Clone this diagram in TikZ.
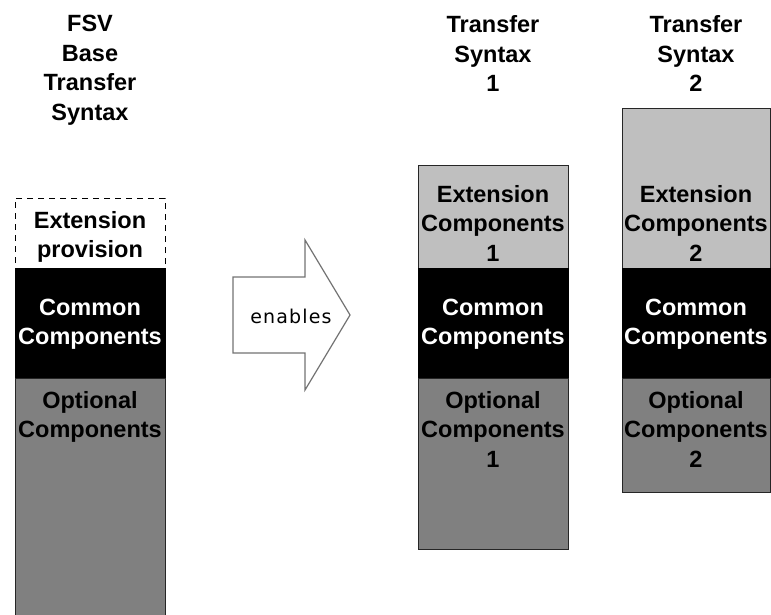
\documentclass[tikz,border=0pt]{standalone}
\usepackage{fontspec}
\setmainfont{Liberation Sans}[BoldFont={Liberation Sans Bold}]
\newfontfamily\arrowfont[LetterSpace=6]{DejaVu Sans}
\begin{document}
\begin{tikzpicture}[x=1pt,y=-1pt,
  blk/.style={anchor=north west, inner sep=0pt, outer sep=0pt, minimum width=150pt, draw=black!85, line width=1pt},
  extn/.style={blk, fill=black!25},
  common/.style={blk, fill=black, draw=black},
  optional/.style={blk, fill=black!50},
  provision/.style={blk, fill=white, draw=black, dash pattern=on 6pt off 5pt},
  lbl/.style={font=\fontsize{23.5}{29.5}\selectfont\bfseries, align=center, anchor=base, inner sep=0pt},
  wlbl/.style={lbl, text=white},
  arrowshape/.style={draw=black!55, fill=white, line width=1.2pt, line join=miter}
]
\useasboundingbox (0,0) rectangle (771,615);

% Left column: FSV base transfer syntax
\node[provision, minimum height=70pt] (lext) at (15,198) {};
\node[common, minimum height=110pt] (lcom) at (15,268) {};
\node[optional, minimum height=245pt] (lopt) at (15,378) {};

% Column 1
\node[extn, minimum height=103pt] (aext) at (418,165) {};
\node[common, minimum height=110pt] (acom) at (418,268) {};
\node[optional, minimum height=171pt] (aopt) at (418,378) {};

% Column 2
\node[extn, minimum height=159pt, minimum width=148pt] (bext) at (622,109) {};
\node[common, minimum height=110pt, minimum width=148pt] (bcom) at (622,268) {};
\node[optional, minimum height=114pt, minimum width=148pt] (bopt) at (622,378) {};

% Titles (anchor = baseline of last line)
\node[lbl] (ltitle) at (90,120.5) {FSV\\Base\\Transfer\\Syntax};
\node[lbl] (atitle) at (493,92) {Transfer\\Syntax\\1};
\node[lbl] (btitle) at (696,92) {Transfer\\Syntax\\2};

% Labels left
\node[lbl] (lextt) at (90,257.5) {Extension\\provision};
\node[wlbl] (lcomt) at (90,344.5) {Common\\Components};
\node[lbl] (loptt) at (90,437.5) {Optional\\Components};

% Labels column 1
\node[lbl] (aextt) at (493,261) {Extension\\Components\\1};
\node[wlbl] (acomt) at (493,344.5) {Common\\Components};
\node[lbl] (aoptt) at (493,467) {Optional\\Components\\1};

% Labels column 2
\node[lbl] (bextt) at (696,261) {Extension\\Components\\2};
\node[wlbl] (bcomt) at (696,344.5) {Common\\Components};
\node[lbl] (boptt) at (696,467) {Optional\\Components\\2};

% Arrow "enables"
\draw[arrowshape] (233,277) -- (305,277) -- (305,240) -- (350,315) -- (305,390) -- (305,353) -- (233,353) -- cycle;
\node[font=\arrowfont\fontsize{19}{22}\selectfont, anchor=base, inner sep=0pt] (enables) at (291,323) {enables};
\end{tikzpicture}
\end{document}
